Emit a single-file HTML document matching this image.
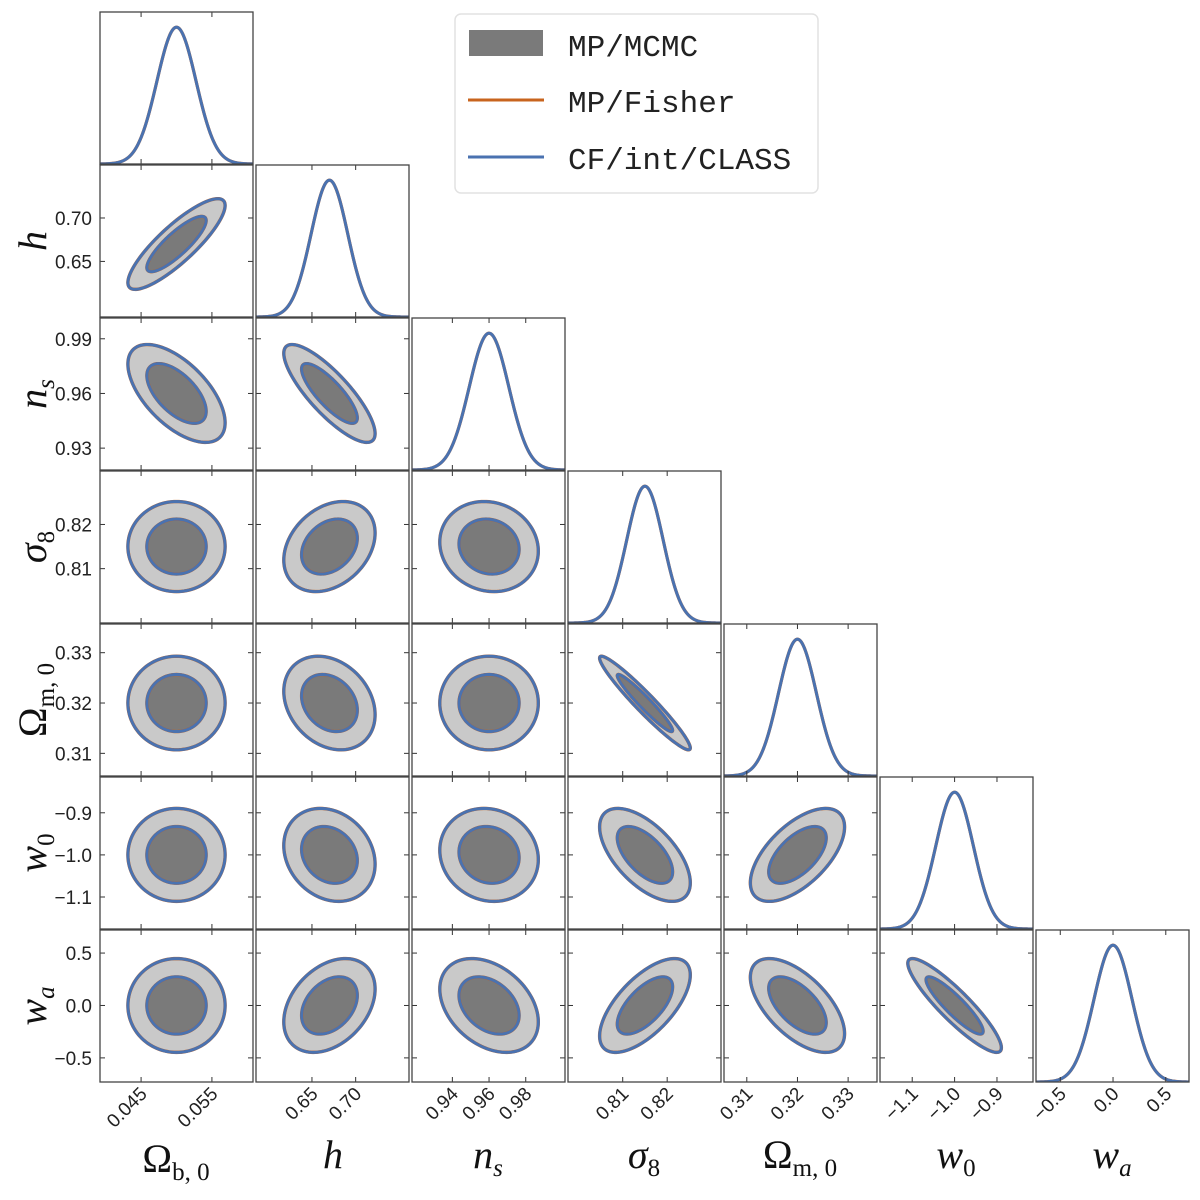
<!DOCTYPE html>
<html><head><meta charset="utf-8"><style>
body{margin:0;background:#fff;}
svg{display:block;}
.tick{font-family:"Liberation Sans",sans-serif;font-size:19px;fill:#222;}
.lab{font-family:"Liberation Serif","DejaVu Serif",serif;font-style:italic;fill:#111;}
.leg{font-family:"Liberation Mono",monospace;font-size:31px;fill:#222;}
</style></head><body>
<svg id="chart" width="1200" height="1200" viewBox="0 0 1200 1200" xmlns="http://www.w3.org/2000/svg">
<g id="panels"></g>
<g id="labels">
  <text class="lab" x="176" y="1172" font-size="40" text-anchor="middle"><tspan font-style="normal">Ω</tspan><tspan font-size="25" dy="8" font-style="normal">b, 0</tspan></text>
  <text class="lab" x="333" y="1168" font-size="40" text-anchor="middle">h</text>
  <text class="lab" x="488" y="1168" font-size="40" text-anchor="middle">n<tspan font-size="25" dy="8">s</tspan></text>
  <text class="lab" x="644" y="1168" font-size="40" text-anchor="middle">σ<tspan font-size="25" dy="8" font-style="normal">8</tspan></text>
  <text class="lab" x="800" y="1168" font-size="40" text-anchor="middle"><tspan font-style="normal">Ω</tspan><tspan font-size="25" dy="8" font-style="normal">m, 0</tspan></text>
  <text class="lab" x="956" y="1168" font-size="40" text-anchor="middle">w<tspan font-size="25" dy="8" font-style="normal">0</tspan></text>
  <text class="lab" x="1112" y="1168" font-size="40" text-anchor="middle">w<tspan font-size="25" dy="8">a</tspan></text>
  <text class="lab" font-size="40" text-anchor="middle" transform="translate(46,241) rotate(-90)">h</text>
  <text class="lab" font-size="40" text-anchor="middle" transform="translate(46,394) rotate(-90)">n<tspan font-size="25" dy="8">s</tspan></text>
  <text class="lab" font-size="40" text-anchor="middle" transform="translate(46,547) rotate(-90)">σ<tspan font-size="25" dy="8" font-style="normal">8</tspan></text>
  <text class="lab" font-size="40" text-anchor="middle" transform="translate(46,700) rotate(-90)"><tspan font-style="normal">Ω</tspan><tspan font-size="25" dy="8" font-style="normal">m, 0</tspan></text>
  <text class="lab" font-size="40" text-anchor="middle" transform="translate(46,853) rotate(-90)">w<tspan font-size="25" dy="8" font-style="normal">0</tspan></text>
  <text class="lab" font-size="40" text-anchor="middle" transform="translate(46,1006) rotate(-90)">w<tspan font-size="25" dy="8">a</tspan></text>
</g>
<g id="legend">
  <rect x="455" y="14" width="363" height="179" rx="6" fill="#fff" stroke="#e2e2e2" stroke-width="1.5"/>
  <rect x="469" y="30" width="74" height="26" fill="#7a7a7a"/>
  <text class="leg" x="568" y="56">MP/MCMC</text>
  <line x1="468" y1="100" x2="544" y2="100" stroke="#c8641e" stroke-width="3"/>
  <text class="leg" x="568" y="112">MP/Fisher</text>
  <line x1="468" y1="157" x2="544" y2="157" stroke="#4a72b0" stroke-width="3"/>
  <text class="leg" x="568" y="169">CF/int/CLASS</text>
</g>
</svg>
<script>
const paramNames = ["omega-b","h","ns","sigma8","omega-m","w0","wa"];
const means = [0.050, 0.670, 0.960, 0.815, 0.320, -1.0, 0.0];
const sigmas = [0.00276, 0.021, 0.0108, 0.0041, 0.00374, 0.0444, 0.18];
const rangeMin = [0.0392, 0.586, 0.918, 0.7977, 0.3055, -1.176, -0.73];
const rangeMax = [0.0608, 0.761, 1.0014, 0.8321, 0.3357, -0.815, 0.72];
const corr = [
 [1, 0.85, -0.6, 0.0, 0.0, 0.0, 0.0],
 [0.85, 1, -0.82, 0.3, -0.25, -0.2, 0.35],
 [-0.6, -0.82, 1, -0.1, 0.0, -0.1, -0.35],
 [0.0, 0.3, -0.1, 1, -0.96, -0.6, 0.65],
 [0.0, -0.25, 0.0, -0.96, 1, 0.6, -0.6],
 [0.0, -0.2, -0.1, -0.6, 0.6, 1, -0.9],
 [0.0, 0.35, -0.35, 0.65, -0.6, -0.9, 1]
];
const xTicks = [[0.045,0.055],[0.65,0.70],[0.94,0.96,0.98],[0.81,0.82],[0.31,0.32,0.33],[-1.1,-1.0,-0.9],[-0.5,0.0,0.5]];
const xTickLabels = [["0.045","0.055"],["0.65","0.70"],["0.94","0.96","0.98"],["0.81","0.82"],["0.31","0.32","0.33"],["−1.1","−1.0","−0.9"],["−0.5","0.0","0.5"]];
const yTicks = [[],[0.65,0.70],[0.93,0.96,0.99],[0.81,0.82],[0.31,0.32,0.33],[-1.1,-1.0,-0.9],[-0.5,0.0,0.5]];
const yTickLabels = [[],["0.65","0.70"],["0.93","0.96","0.99"],["0.81","0.82"],["0.31","0.32","0.33"],["−1.1","−1.0","−0.9"],["−0.5","0.0","0.5"]];
const levels = [2.486, 1.515];

const NS="http://www.w3.org/2000/svg";
const g=document.getElementById('panels');
const colLeft=[100,256,412,568,724,880,1036], W=153;
const rowTop=[12,165,318,471,624,777,930], H=152;
function sx(j,v){return colLeft[j]+(v-rangeMin[j])/(rangeMax[j]-rangeMin[j])*W;}
function sy(i,v){return rowTop[i]+H-(v-rangeMin[i])/(rangeMax[i]-rangeMin[i])*H;}
function mk(tag,attrs,parent){const e=document.createElementNS(NS,tag);for(const k in attrs)e.setAttribute(k,attrs[k]);(parent||g).appendChild(e);return e;}

for(let i=0;i<7;i++){for(let j=0;j<=i;j++){
  const pg=mk('g',{});
  
  
  const x0=colLeft[j], y0=rowTop[i];
  const cp='cp'+i+'_'+j;
  const cl=mk('clipPath',{id:cp},pg); mk('rect',{x:x0,y:y0,width:W,height:H},cl);
  const body=mk('g',{'clip-path':'url(#'+cp+')'},pg);
  if(i===j){
    let d='';
    for(let k=0;k<=200;k++){
      const v=rangeMin[j]+(rangeMax[j]-rangeMin[j])*k/200;
      const p=Math.exp(-0.5*Math.pow((v-means[j])/sigmas[j],2));
      const y=y0+H-p*H*0.9;
      d+=(k?'L':'M')+sx(j,v).toFixed(2)+','+y.toFixed(2);
    }
    const o=mk('path',{d:d,fill:'none',stroke:'#c8641e','stroke-width':3.2},body);
    
    
    const b=mk('path',{d:d,fill:'none',stroke:'#4a72b0','stroke-width':3},body);
    
    
  } else {
    const sxv=sigmas[j], syv=sigmas[i], r=corr[i][j];
    const l11=sxv, l21=r*syv, l22=syv*Math.sqrt(1-r*r);
    levels.forEach((k,li)=>{
      let d='';
      for(let t=0;t<=120;t++){
        const a=2*Math.PI*t/120, c=Math.cos(a), s=Math.sin(a);
        const vx=means[j]+k*l11*c, vy=means[i]+k*(l21*c+l22*s);
        d+=(t?'L':'M')+sx(j,vx).toFixed(2)+','+sy(i,vy).toFixed(2);
      }
      d+='Z';
      const f=mk('path',{d:d,fill:li===0?'#c9c9c9':'#7a7a7a',stroke:'#c8641e','stroke-width':3.4},body);
      
      
      const s=mk('path',{d:d,fill:'none',stroke:'#4a72b0','stroke-width':3},body);
      
      
    });
    yTicks[i].forEach(v=>{
      const y=sy(i,v);
      mk('line',{x1:x0,x2:x0+5,y1:y,y2:y,stroke:'#333','stroke-width':1},pg);
      mk('line',{x1:x0+W,x2:x0+W-5,y1:y,y2:y,stroke:'#333','stroke-width':1},pg);
    });
  }
  xTicks[j].forEach(v=>{
    const x=sx(j,v);
    mk('line',{x1:x,x2:x,y1:y0+H,y2:y0+H-5,stroke:'#333','stroke-width':1},pg);
    mk('line',{x1:x,x2:x,y1:y0,y2:y0+5,stroke:'#333','stroke-width':1},pg);
  });
  mk('rect',{x:x0,y:y0,width:W,height:H,fill:'none',stroke:'#444','stroke-width':1.3},pg);
}}
for(let i=1;i<7;i++){
  yTicks[i].forEach((v,k)=>{
    const t=mk('text',{x:92,y:sy(i,v)+7,'text-anchor':'end','class':'tick'});
    t.textContent=yTickLabels[i][k];
    
    
  });
}
for(let j=0;j<7;j++){
  xTicks[j].forEach((v,k)=>{
    const x=sx(j,v)+7, y=1095;
    const t=mk('text',{x:x,y:y,'text-anchor':'end','class':'tick',transform:'rotate(-45 '+x+' '+y+')'});
    t.textContent=xTickLabels[j][k];
    
    
  });
}
</script>
</body></html>
